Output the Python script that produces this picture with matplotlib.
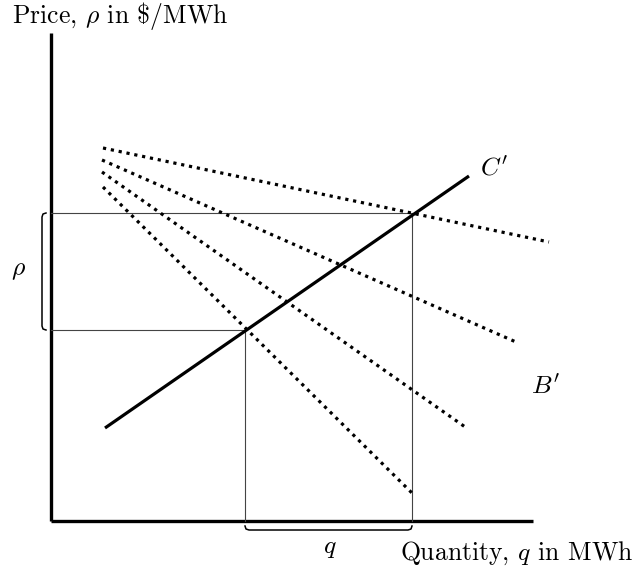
import numpy as np
import matplotlib
matplotlib.use("Agg")
import matplotlib.pyplot as plt

plt.rcParams['mathtext.fontset'] = 'cm'
plt.rcParams['font.family'] = 'cmr10'
plt.rcParams['axes.formatter.use_mathtext'] = True

# supply curve C' (quantity, price)
supply_q = [54, 418]
supply_p = [93, 345]

# demand curves (dotted), each: start and end point
demand_q = [[52, 498], [51, 465], [51, 417], [52, 362]]
demand_p = [[373, 279], [361, 179], [349, 92], [334, 27]]

# two equilibria
eq_q = [194, 361]
eq_p = [191, 308]

axis_len_q = 482
axis_len_p = 488

fig = plt.figure(figsize=(6.37, 5.73), dpi=100)
ax = fig.add_axes([0, 0, 1, 1])
ax.set_xlim(-51, 586)
ax.set_ylim(-52, 521)
ax.axis('off')

# axes
ax.plot([0, 0], [0, axis_len_p], color='black', lw=2.4, solid_capstyle='butt')
ax.plot([0, axis_len_q], [0, 0], color='black', lw=2.4, solid_capstyle='butt')

# guide lines to the equilibria
for q, p in zip(eq_q, eq_p):
    ax.plot([0, q], [p, p], color='#444444', lw=0.8)
    ax.plot([q, q], [0, p], color='#444444', lw=0.8)

# demand curves
for qs, ps in zip(demand_q, demand_p):
    ax.plot(qs, ps, color='black', lw=2.3, linestyle=(0, (1, 1.5)))

# supply curve
ax.plot(supply_q, supply_p, color='black', lw=2.3, solid_capstyle='butt')

# braces
bx = -9
ax.plot([bx + 4, bx + 1, bx, bx, bx + 1, bx + 4],
        [eq_p[1], eq_p[1] - 1, eq_p[1] - 4, eq_p[0] + 4, eq_p[0] + 1, eq_p[0]],
        color='black', lw=1.1)
by = -9
ax.plot([eq_q[0], eq_q[0] + 1, eq_q[0] + 4, eq_q[1] - 4, eq_q[1] - 1, eq_q[1]],
        [by + 4, by + 1, by, by, by + 1, by + 4],
        color='black', lw=1.1)

# labels
fs = 18.5
ax.text(-39, 505, r'Price, $\rho$ in \$/MWh', fontsize=fs, ha='left', va='center')
ax.text(349, -32, r'Quantity, $q$ in MWh', fontsize=fs, ha='left', va='center')
ax.text(-33, 251, r'$\rho$', fontsize=fs, ha='center', va='center')
ax.text(279, -27, r'$q$', fontsize=fs, ha='center', va='center')
ax.text(443, 353, r"$C'$", fontsize=fs, ha='center', va='center')
ax.text(494, 134, r"$B'$", fontsize=fs, ha='center', va='center')

fig.savefig('out.png', dpi=100)
